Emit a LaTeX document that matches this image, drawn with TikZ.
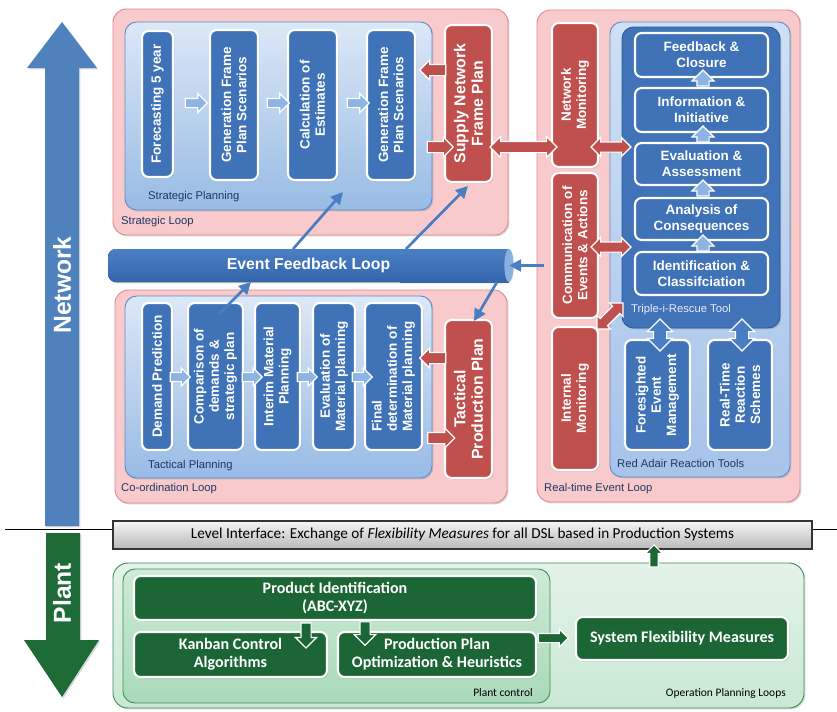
\documentclass[tikz,border=0pt]{standalone}
\usepackage{fontspec}
\setmainfont{Liberation Sans}
\newfontfamily\calib{Carlito}
\usetikzlibrary{shapes.arrows,shapes.geometric,shadows,calc,arrows.meta}
\definecolor{nodeblue}{HTML}{3F72B7}
\definecolor{nodered}{HTML}{C0504D}
\definecolor{arrlight}{HTML}{8DB4E2}
\definecolor{loopfill}{HTML}{F8CACC}
\definecolor{loopdraw}{HTML}{E08A8F}
\definecolor{plantop}{HTML}{DCE8F6}
\definecolor{planbot}{HTML}{98BBE5}
\definecolor{plandraw}{HTML}{5B8BCB}
\definecolor{adairtop}{HTML}{CFE0F4}
\definecolor{adairbot}{HTML}{A7C3EA}
\definecolor{triple}{HTML}{4073B8}
\definecolor{tripledraw}{HTML}{2C5B9C}
\definecolor{bigblue}{HTML}{4F81BD}
\definecolor{biggreen}{HTML}{1E6B37}
\definecolor{nodegreen}{HTML}{1C6636}
\definecolor{opfilltop}{HTML}{E4F3E9}
\definecolor{opfillbot}{HTML}{C9E8D3}
\definecolor{opdraw}{HTML}{3F8F5F}
\definecolor{pctop}{HTML}{CDEBD6}
\definecolor{pcbot}{HTML}{A9D9B8}
\definecolor{labelnavy}{HTML}{1F3864}
\definecolor{thinblue}{HTML}{4A7EC2}
\definecolor{cyltop}{HTML}{4A7FC4}
\definecolor{cylbot}{HTML}{3365AC}
\definecolor{cylend}{HTML}{8AB0E0}
\begin{document}
\begin{tikzpicture}[x=0.3mm,y=-0.3mm,
  shad/.style={drop shadow={shadow xshift=1.2pt,shadow yshift=-1.2pt,opacity=0.3}},
  boxbase/.style={rectangle, rounded corners=2mm, draw=white, line width=1.8pt, text=white, align=center, inner sep=1pt, shad},
  vb/.style={boxbase, fill=nodeblue, rotate=90, font=\bfseries\fontsize{11.5}{13}\selectfont},
  vr/.style={boxbase, fill=nodered, rotate=90, font=\bfseries\fontsize{11.5}{13}\selectfont},
  vrbig/.style={boxbase, fill=nodered, rotate=90, font=\bfseries\fontsize{13.5}{15}\selectfont},
  hb/.style={boxbase, fill=nodeblue, font=\bfseries\fontsize{11.5}{13.5}\selectfont},
  gb/.style={boxbase, fill=nodegreen, font=\calib\bfseries\fontsize{13.7}{15.5}\selectfont},
  loopbox/.style={fill=loopfill, draw=loopdraw, line width=0.8pt, rounded corners=4mm, shad},
  planbox/.style={top color=plantop, bottom color=planbot, draw=plandraw, line width=0.8pt, rounded corners=3.5mm, shad},
  lbl/.style={font=\fontsize{9.6}{11}\selectfont, text=labelnavy, inner sep=0pt},
  blk/.style={single arrow, draw=white, line width=1pt, inner xsep=0pt, outer sep=0pt, single arrow head indent=0pt},
  dblk/.style={double arrow, draw=white, line width=1pt, inner xsep=0pt, outer sep=0pt, double arrow head indent=0pt},
  thinarr/.style={draw=thinblue, line width=2.3pt, -{Triangle[length=3.6mm,width=3.6mm]}}
]
\useasboundingbox (0,0) rectangle (837,711);
\fill[white] (0,0) rectangle (837,711);

% ---- big side arrows ----
\fill[bigblue, shad] (45,526) -- (45,68) -- (27,68) -- (62,22) -- (97,68) -- (79,68) -- (79,526) -- cycle;
\node[rotate=90, text=white, font=\bfseries\fontsize{21}{24}\selectfont] (netlbl) at (62,285) {Network};
\draw[line width=0.6pt] (5,529) -- (837,529);
\fill[biggreen, shad] (46,533) -- (80,533) -- (80,640) -- (99,640) -- (62,697) -- (24,640) -- (46,640) -- cycle;
\node[rotate=90, text=white, font=\bfseries\fontsize{21}{24}\selectfont] (plantlbl) at (62,593) {Plant};

% ---- containers ----
\draw[loopbox] (113,9) rectangle (508,235);
\draw[planbox] (125,22) rectangle (432,210);
\draw[loopbox] (115,290) rectangle (507,503);
\draw[planbox] (125,296) rectangle (432,478);
\draw[loopbox] (537,10) rectangle (800,502);
\draw[top color=adairtop, bottom color=adairbot, draw=plandraw, line width=0.8pt, rounded corners=3.5mm, shad] (610,22) rectangle (790,477);
\draw[fill=triple, draw=tripledraw, line width=0.8pt, rounded corners=3.5mm, shad] (622,27) rectangle (780,328);

\node[lbl, anchor=west] (lsp) at (148,197) {Strategic Planning};
\node[lbl, anchor=west] (lsl) at (121,222) {Strategic Loop};
\node[lbl, anchor=west] (ltp) at (148,466) {Tactical Planning};
\node[lbl, anchor=west] (lcl) at (121,489) {Co-ordination Loop};
\node[lbl, anchor=west] (lrl) at (544,489) {Real-time Event Loop};
\node[lbl, anchor=west] (lra) at (617,463) {Red Adair Reaction Tools};
\node[lbl, anchor=west, text=white!92!blue] (ltr) at (631,310) {Triple-i-Rescue Tool};

% ---- event feedback loop cylinder ----
\fill[top color=cyltop, bottom color=cylbot, rounded corners=2.4mm, shad] (108,249) rectangle (509,282);
\fill[top color=cyltop, bottom color=cylbot] (400,249) rectangle (509,282);
\fill[cylend] (509,265.5) ellipse [x radius=1.4mm, y radius=4.95mm];
\node[text=white, font=\bfseries\fontsize{13.5}{15}\selectfont, minimum width=120.3mm, minimum height=9.9mm] (efl) at (308.5,265.5) {Event Feedback Loop};

% ---- strategic nodes ----
\node[vb, minimum width=43.8mm, minimum height=9.3mm] (fc) at (157.5,104) {Forecasting 5 year};
\node[vb, minimum width=45mm, minimum height=14.4mm] (gf1) at (234,105) {Generation Frame\\Plan Scenarios};
\node[vb, minimum width=45mm, minimum height=14.7mm] (calc) at (312.5,105) {Calculation of\\Estimates};
\node[vb, minimum width=45mm, minimum height=14.4mm] (gf2) at (391,105) {Generation Frame\\Plan Scenarios};
\node[vrbig, minimum width=47.1mm, minimum height=14.1mm] (snfp) at (468.5,103.5) {Supply Network\\Frame Plan};

% ---- tactical nodes ----
\node[vb, minimum width=44.1mm, minimum height=9mm] (dp) at (157,376.5) {Demand Prediction};
\node[vb, minimum width=44.1mm, minimum height=16.5mm] (cmp) at (215.5,376.5) {Comparison of\\demands \&\\strategic plan};
\node[vb, minimum width=44.1mm, minimum height=13.5mm] (imp) at (277.5,376.5) {Interim Material\\Planning};
\node[vb, minimum width=44.1mm, minimum height=12.6mm] (evm) at (334,376.5) {Evaluation of\\Material planning};
\node[vb, minimum width=44.1mm, minimum height=17.1mm, align=left] (fdm) at (393.5,376.5) {Final\\determination of\\Material planning};
\node[vrbig, minimum width=47.4mm, minimum height=14.1mm] (tpp) at (468.5,399) {Tactical\\Production Plan};

% ---- real-time nodes ----
\node[vr, minimum width=43.2mm, minimum height=13.8mm] (nm) at (575,95) {Network\\Monitoring};
\node[vr, minimum width=43.5mm, minimum height=13.8mm] (cea) at (575,245.5) {Communication of\\Events \& Actions};
\node[vr, minimum width=42.9mm, minimum height=13.8mm] (im) at (575,398.5) {Internal\\Monitoring};
\node[hb, minimum width=39.9mm, minimum height=13.2mm] (fb) at (701.5,55) {Feedback \&\\Closure};
\node[hb, minimum width=39.9mm, minimum height=13.2mm] (ii) at (701.5,110) {Information \&\\Initiative};
\node[hb, minimum width=39.9mm, minimum height=12.6mm] (ea) at (701.5,164) {Evaluation \&\\Assessment};
\node[hb, minimum width=39.9mm, minimum height=12.6mm] (ac) at (701.5,219) {Analysis of\\Consequences};
\node[hb, minimum width=39.9mm, minimum height=12.9mm] (ic) at (701.5,273.5) {Identification \&\\Classifciation};
\node[vb, minimum width=33mm, minimum height=19.5mm] (fem) at (657.5,395) {Foresighted\\Event\\Management};
\node[vb, minimum width=33mm, minimum height=19.2mm] (rtr) at (740,395) {Real-Time\\Reaction\\Schemes};

% ---- level interface and plant ----
\node[rectangle, top color=gray!8, bottom color=gray!55, draw=black!80, line width=0.9pt, minimum width=209.7mm, minimum height=8.4mm, font=\calib\fontsize{13}{15}\selectfont, shad] (li) at (462.5,535) {Level Interface: Exchange of \textit{Flexibility Measures} for all DSL based in Production Systems};
\draw[top color=opfilltop, bottom color=opfillbot, draw=opdraw, line width=0.8pt, rounded corners=4.5mm, shad] (113,563) rectangle (804,708);
\draw[top color=pctop, bottom color=pcbot, draw=opdraw, line width=0.8pt, rounded corners=3.6mm] (123,569) rectangle (550,703);
\node[font=\calib\fontsize{9.8}{11}\selectfont, anchor=east, inner sep=0pt] (lpc) at (533,693) {Plant control};
\node[font=\calib\fontsize{9.8}{11}\selectfont, anchor=east, inner sep=0pt] (lop) at (786,693) {Operation Planning Loops};
\node[gb, minimum width=120.6mm, minimum height=13.2mm] (pid) at (335,598) {Product Identification\\(ABC-XYZ)};
\node[gb, minimum width=57.9mm, minimum height=13.5mm] (kca) at (230.5,654.5) {Kanban Control\\Algorithms};
\node[gb, minimum width=59.4mm, minimum height=13.5mm] (ppo) at (437,654.5) {Production Plan\\Optimization \& Heuristics};
\node[gb, minimum width=63.6mm, minimum height=12.9mm] (sfm) at (682,638.5) {System Flexibility Measures};

% ---- block arrows: strategic ----
\node[blk, fill=arrlight, minimum height=6.6mm, inner ysep=1.2mm, single arrow head extend=1.5mm] (sa1) at (194,103) {};
\node[blk, fill=arrlight, minimum height=6.6mm, inner ysep=1.2mm, single arrow head extend=1.5mm] (sa2) at (276,103) {};
\node[blk, fill=arrlight, minimum height=6.6mm, inner ysep=1.2mm, single arrow head extend=1.5mm] (sa3) at (356,103) {};
\node[blk, fill=nodered, rotate=180, minimum height=7.8mm, inner ysep=1.5mm, single arrow head extend=1.3mm] (sr1) at (435.5,70) {};
\node[blk, fill=nodered, minimum height=7.8mm, inner ysep=1.5mm, single arrow head extend=1.3mm] (sr2) at (437.5,147) {};
% ---- block arrows: tactical ----
\node[blk, fill=arrlight, minimum height=6mm, inner ysep=1.2mm, single arrow head extend=1.35mm] (ta1) at (178,377) {};
\node[blk, fill=arrlight, minimum height=6mm, inner ysep=1.2mm, single arrow head extend=1.35mm] (ta2) at (250,377) {};
\node[blk, fill=arrlight, minimum height=6mm, inner ysep=1.2mm, single arrow head extend=1.35mm] (ta3) at (305,377) {};
\node[blk, fill=arrlight, minimum height=6mm, inner ysep=1.2mm, single arrow head extend=1.35mm] (ta4) at (360,377) {};
\node[blk, fill=nodered, rotate=180, minimum height=7.8mm, inner ysep=1.5mm, single arrow head extend=1.3mm] (tr1) at (435.5,358) {};
\node[blk, fill=nodered, minimum height=8.1mm, inner ysep=1.5mm, single arrow head extend=1.3mm] (tr2) at (438.5,438) {};
% ---- block arrows: real-time ----
\node[dblk, fill=nodered, minimum height=20.1mm, inner ysep=1.5mm, double arrow head extend=1.5mm] (d1) at (523.5,147) {};
\node[dblk, fill=nodered, minimum height=12mm, inner ysep=1.35mm, double arrow head extend=1.35mm] (d2) at (611,147) {};
\node[dblk, fill=nodered, minimum height=12mm, inner ysep=1.35mm, double arrow head extend=1.35mm] (d3) at (611,247) {};
\node[dblk, fill=nodered, rotate=45, minimum height=11mm, inner ysep=1.35mm, double arrow head extend=1.35mm] (d4) at (610,316) {};
\node[dblk, fill=thinblue, rotate=90, minimum height=9.6mm, inner ysep=1.8mm, double arrow head extend=1.8mm] (d5) at (660,335) {};
\node[dblk, fill=thinblue, rotate=90, minimum height=9.6mm, inner ysep=1.8mm, double arrow head extend=1.8mm] (d6) at (742,335) {};
\node[blk, fill=arrlight, rotate=90, minimum height=4.8mm, inner ysep=1.65mm, single arrow head extend=1.5mm] (u1) at (703,81) {};
\node[blk, fill=arrlight, rotate=90, minimum height=4.8mm, inner ysep=1.65mm, single arrow head extend=1.5mm] (u2) at (703,137) {};
\node[blk, fill=arrlight, rotate=90, minimum height=4.8mm, inner ysep=1.65mm, single arrow head extend=1.5mm] (u3) at (703,191) {};
\node[blk, fill=arrlight, rotate=90, minimum height=4.8mm, inner ysep=1.65mm, single arrow head extend=1.5mm] (u4) at (703,246) {};
% ---- block arrows: plant ----
\node[blk, fill=nodegreen, rotate=270, minimum height=7.5mm, inner ysep=1.35mm, single arrow head extend=1.65mm] (g1) at (306,633) {};
\node[blk, fill=nodegreen, rotate=270, minimum height=7mm, inner ysep=1.35mm, single arrow head extend=1.65mm] (g2) at (365,631) {};
\node[blk, fill=nodegreen, minimum height=9mm, inner ysep=1.2mm, single arrow head extend=1.3mm] (g3) at (551,638) {};
\node[blk, fill=nodegreen, rotate=90, minimum height=6.6mm, inner ysep=1.1mm, single arrow head extend=1.3mm] (g4) at (654,558) {};

% ---- thin blue connectors ----
\coordinate (t1) at (293,249); \coordinate (h1) at (343,192);
\coordinate (t2) at (406,249); \coordinate (h2) at (468,186);
\coordinate (t3) at (220,313); \coordinate (h3) at (251,282);
\coordinate (t4) at (497,282); \coordinate (h4) at (474,321);
\coordinate (t5) at (544,265.5);
\draw[thinarr] (t1) -- (h1);
\draw[thinarr] (t2) -- (h2);
\draw[thinarr] (t3) -- (h3);
\draw[thinarr] (t4) -- (h4);
\draw[thinarr] (t5) -- (efl.east);
\end{tikzpicture}
\end{document}
